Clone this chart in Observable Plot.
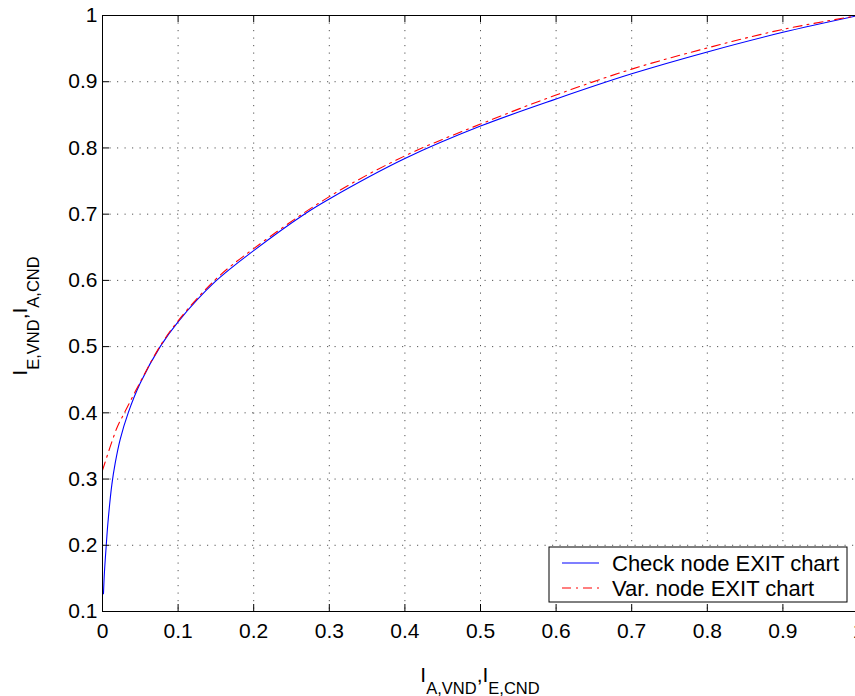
<!DOCTYPE html>
<html><head><meta charset="utf-8">
<script src="https://cdn.jsdelivr.net/npm/d3@7"></script>
<script src="https://cdn.jsdelivr.net/npm/@observablehq/plot@0.6"></script>
<style>
html,body{margin:0;padding:0;overflow:hidden;background:#fff;}
#chart svg{display:block;max-width:none !important;}
</style></head><body><div id="chart"></div>
<script>
// ---- data ----
const seriesNames = ["Check node EXIT chart", "Var. node EXIT chart"];
const checkX = [0.0013, 0.0026, 0.0049, 0.0071, 0.0124, 0.0168, 0.0234, 0.034, 0.05, 0.0763, 0.1, 0.149, 0.2, 0.267, 0.3, 0.4, 0.5, 0.6, 0.7, 0.8, 0.9, 1.0];
const checkY = [0.127, 0.160, 0.199, 0.233, 0.292, 0.324, 0.360, 0.400, 0.445, 0.500, 0.5375, 0.598, 0.645, 0.700, 0.723, 0.784, 0.833, 0.874, 0.912, 0.945, 0.9746, 1.0];
const varX = [0.0, 0.019, 0.029, 0.052, 0.0763, 0.1, 0.15, 0.2, 0.3, 0.4, 0.5, 0.6, 0.7, 0.8, 0.9, 1.0];
const varY = [0.313, 0.377, 0.400, 0.451, 0.501, 0.539, 0.602, 0.648, 0.7265, 0.788, 0.836, 0.880, 0.919, 0.951, 0.979, 1.0];
const xTicks = [0, 0.1, 0.2, 0.3, 0.4, 0.5, 0.6, 0.7, 0.8, 0.9, 1];
const xTickLabels = ["0", "0.1", "0.2", "0.3", "0.4", "0.5", "0.6", "0.7", "0.8", "0.9", "1"];
const yTicks = [0.1, 0.2, 0.3, 0.4, 0.5, 0.6, 0.7, 0.8, 0.9, 1];
const yTickLabels = ["0.1", "0.2", "0.3", "0.4", "0.5", "0.6", "0.7", "0.8", "0.9", "1"];
const xLabelParts = [["I", "A,VND"], ["I", "E,CND"]];
const yLabelParts = [["I", "E,VND"], ["I", "A,CND"]];

// ---- layout ----
const W = 860, H = 696, mL = 102, mT = 15, mB = 85, mR = 2;
const plotW = W - mL - mR, plotH = H - mT - mB;
const FONT = "'Liberation Sans', Arial, Helvetica, sans-serif";
const DASHDOT = "9,5,2,5";

const check = checkX.map((x, i) => ({x, y: checkY[i]}));
const vars = varX.map((x, i) => ({x, y: varY[i]}));

const chart = Plot.plot({
  width: W, height: H,
  marginLeft: mL, marginTop: mT, marginBottom: mB, marginRight: mR,
  style: {fontFamily: FONT, fontSize: "21px", color: "#000", background: "#fff", maxWidth: "none"},
  x: {domain: [0, 1], label: null},
  y: {domain: [0.1, 1], label: null},
  marks: [
    Plot.gridX(xTicks, {stroke: "#555", strokeOpacity: 1, strokeWidth: 1, strokeDasharray: "1.2,6.3"}),
    Plot.gridY(yTicks, {stroke: "#555", strokeOpacity: 1, strokeWidth: 1, strokeDasharray: "1.2,6.3"}),
    Plot.line(check, {x: "x", y: "y", stroke: "#0000ff", strokeWidth: 1.1, curve: "catmull-rom"}),
    Plot.line(vars, {x: "x", y: "y", stroke: "#ff0000", strokeWidth: 1.1, strokeDasharray: DASHDOT, curve: "catmull-rom"}),
    Plot.ruleX(xTicks, {x: d => d, insetTop: plotH - 7, stroke: "#000"}),
    Plot.ruleX(xTicks, {x: d => d, insetBottom: plotH - 7, stroke: "#000"}),
    Plot.ruleY(yTicks, {y: d => d, insetRight: plotW - 7, stroke: "#000"}),
    Plot.axisX(xTicks, {tickSize: 0, tickPadding: 12, label: null, fill: "#000",
      tickFormat: d => xTickLabels[xTicks.indexOf(d)]}),
    Plot.axisY(yTicks, {tickSize: 0, tickPadding: 5, label: null, fill: "#000",
      tickFormat: d => yTickLabels[yTicks.indexOf(d)]}),
    Plot.frame({stroke: "#000", strokeWidth: 1})
  ]
});
document.getElementById("chart").appendChild(chart);

// ---- axis labels with subscripts and legend, placed via the chart's scales ----
const svg = d3.select(chart);
const xs = chart.scale("x"), ys = chart.scale("y");
const xMid = (xs.apply(0) + xs.apply(1)) / 2;
const yMid = (ys.apply(0.1) + ys.apply(1)) / 2;
const SUB = 16.5, SHIFT = 12;

function addLabel(g, parts) {
  const t = g.append("text").attr("text-anchor", "middle")
    .attr("font-family", FONT).attr("font-size", 21).attr("fill", "#000");
  parts.forEach((p, i) => {
    t.append("tspan").attr("dy", i === 0 ? 0 : -SHIFT).text((i === 0 ? "" : ",") + p[0]);
    t.append("tspan").attr("dy", SHIFT).attr("font-size", SUB).text(p[1]);
  });
}
addLabel(svg.append("g").attr("transform", `translate(${xMid},${ys.apply(0.1) + 71})`), xLabelParts);
addLabel(svg.append("g").attr("transform", `translate(${xs.apply(0) - 75},${yMid + 3}) rotate(-90)`), yLabelParts);

// legend (south-east, inside axes)
const lgW = 298, lgH = 55;
const lgX = xs.apply(1) - 11 - lgW, lgY = ys.apply(0.1) - 9 - lgH;
const lg = svg.append("g").attr("transform", `translate(${lgX},${lgY})`);
lg.append("rect").attr("width", lgW).attr("height", lgH)
  .attr("fill", "#fff").attr("stroke", "#000").attr("stroke-width", 1);
const lgStyles = [{stroke: "#0000ff", dash: null}, {stroke: "#ff0000", dash: DASHDOT}];
seriesNames.forEach((name, i) => {
  const yy = 16 + i * 25;
  const ln = lg.append("line").attr("x1", 13).attr("x2", 50).attr("y1", yy).attr("y2", yy)
    .attr("stroke", lgStyles[i].stroke).attr("stroke-width", 1.1);
  if (lgStyles[i].dash) ln.attr("stroke-dasharray", lgStyles[i].dash);
  lg.append("text").attr("x", 63).attr("y", yy + 7.5).attr("text-anchor", "start")
    .attr("font-family", FONT).attr("font-size", 22).attr("fill", "#000").text(name);
});
</script>
</body></html>
